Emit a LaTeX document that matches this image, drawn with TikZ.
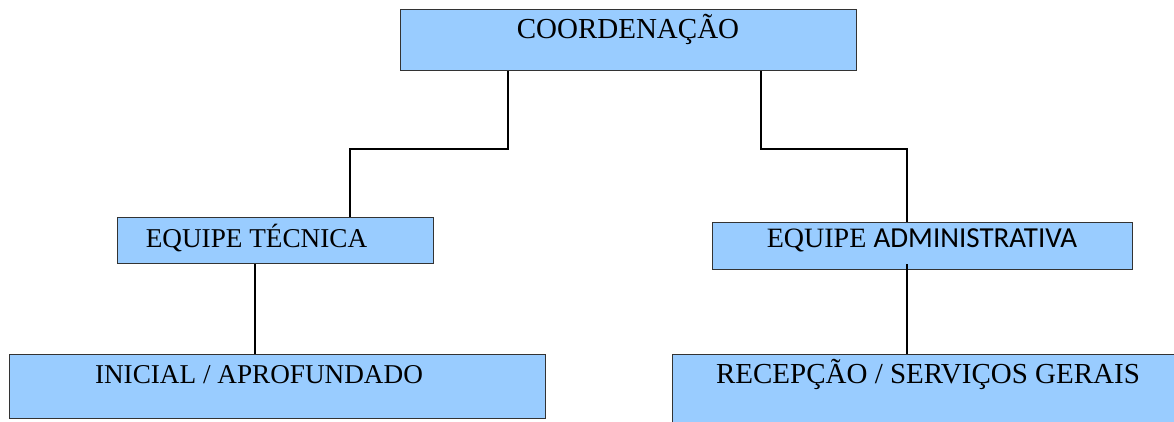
\documentclass[tikz,border=0pt]{standalone}
\usepackage{fontspec}
\setmainfont{Liberation Serif}
\newfontfamily\sansf{Carlito}
\definecolor{boxblue}{HTML}{99CCFF}
\definecolor{boxline}{HTML}{333333}
\begin{document}
\begin{tikzpicture}[x=1pt,y=-1pt,
  orgbox/.style={draw=boxline,line width=1pt,fill=boxblue,rectangle,inner sep=0pt,
    font=\fontsize{29}{29}\selectfont},
  smalltext/.style={font=\fontsize{27.2}{27.2}\selectfont},
  link/.style={draw=black,line width=1.6pt}]
\useasboundingbox (0,0) rectangle (1174,421);
\node[orgbox,anchor=north,minimum width=456pt,text height=29pt,text depth=32pt] (coord) at (628,9) {COORDENAÇÃO};
\node[orgbox,smalltext,anchor=north,minimum width=316pt,text height=30pt,text depth=16pt] (tec) at (275,217) {\hspace*{-37pt}EQUIPE TÉCNICA};
\node[orgbox,anchor=north,minimum width=420pt,text height=25pt,text depth=22pt] (adm) at (922,222) {{\fontsize{28}{28}\selectfont EQUIPE} {\sansf ADMINISTRATIVA}};
\node[orgbox,smalltext,anchor=north,minimum width=536pt,text height=29pt,text depth=35pt] (ini) at (277,354) {\hspace*{-36pt}INICIAL / APROFUNDADO};
\node[orgbox,anchor=north,minimum width=508pt,text height=29pt,text depth=47pt] (rec) at (926,354) {\hspace*{4pt}RECEPÇÃO / SERVIÇOS GERAIS};
\draw[link] ([xshift=-120pt]coord.south) -- ++(0,78) -| ([xshift=75pt]tec.north);
\draw[link] ([xshift=133pt]coord.south) -- ++(0,78) -| ([xshift=-15pt]adm.north);
\draw[link] ([xshift=-20pt]tec.south) -- ([xshift=-20pt]tec.south |- ini.north);
\draw[link] ([xshift=-15pt,yshift=6pt]adm.south) -- ([xshift=-15pt]adm.south |- rec.north);
\end{tikzpicture}
\end{document}
